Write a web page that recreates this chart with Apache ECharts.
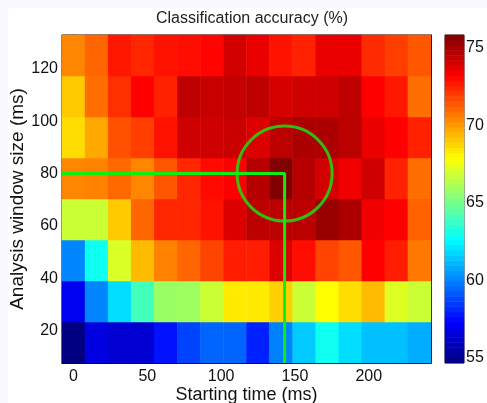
<!DOCTYPE html>
<html>
<head>
<meta charset="utf-8">
<script src="https://cdn.jsdelivr.net/npm/echarts@6/dist/echarts.min.js"></script>
<style>
html, body { margin: 0; padding: 0; background: #f8f8fe; }
#chart { width: 487px; height: 403px; }
</style>
</head>
<body>
<div id="chart"></div>
<script>
// cell centres (ms), step 15.625
var startTimes = [0, 15.6, 31.3, 46.9, 62.5, 78.1, 93.8, 109.4, 125, 140.6, 156.3, 171.9, 187.5, 203.1, 218.8, 234.4]
var windowSizes = [15.6, 31.3, 46.9, 62.5, 78.1, 93.8, 109.4, 125]

// accuracy (%) per window size, left to right in starting time
var win16 = [54.7, 56.7, 56.4, 56.4, 57.7, 58.7, 59.4, 59.4, 58.0, 60.0, 61.5, 62.9, 61.9, 61.3, 61.3, 60.9]
var win31 = [57.0, 60.1, 61.9, 64.0, 65.8, 65.9, 66.8, 68.3, 68.3, 68.9, 66.8, 67.9, 68.6, 69.3, 67.2, 66.8]
var win47 = [60.1, 62.9, 67.1, 69.3, 70.5, 71.1, 71.8, 72.6, 72.6, 73.9, 72.9, 71.8, 71.4, 73.2, 72.6, 70.7]
var win63 = [66.8, 66.8, 69.0, 71.1, 72.4, 72.4, 72.8, 73.9, 74.6, 74.6, 74.6, 75.3, 74.9, 73.5, 73.2, 71.2]
var win78 = [70.4, 70.5, 71.0, 70.4, 71.4, 72.4, 73.0, 73.2, 74.7, 75.8, 74.7, 74.1, 73.5, 74.2, 72.5, 70.9]
var win94 = [68.6, 69.7, 71.5, 71.9, 72.8, 74.2, 74.2, 74.3, 73.9, 74.6, 74.9, 74.9, 74.6, 73.6, 73.2, 72.5]
var win109 = [69.0, 70.9, 72.2, 73.2, 72.5, 74.5, 74.3, 74.4, 74.5, 74.0, 74.2, 74.2, 74.5, 73.2, 72.7, 70.9]
var win125 = [70.4, 71.1, 72.7, 72.4, 72.8, 72.9, 73.1, 74.1, 73.6, 72.8, 72.5, 73.6, 73.6, 72.3, 71.9, 71.4]

var xTicks = [0, 50, 100, 150, 200]
var yTicks = [20, 40, 60, 80, 100, 120]
var cbTicks = [55, 60, 65, 70, 75]
var accMin = 54.68
var accMax = 75.82

// best point marker: start 143 ms, window 80 ms
var bestPoint = [143, 80]
var guideLine = [[-7.8125, 80], [143, 80], [143, 7.8125]]

var rows = [win16, win31, win47, win63, win78, win94, win109, win125]
var heatData = []
rows.forEach(function (row, j) {
  row.forEach(function (v, i) {
    heatData.push([i, j, v])
  })
})

// colour bar stripes (64 levels like the matlab jet map)
var cbLevels = []
var cbData = []
for (var k = 0; k < 64; k++) {
  cbLevels.push(k)
  cbData.push([0, k, accMin + (k + 0.5) * (accMax - accMin) / 64])
}

var font = 'Liberation Sans, Arial, sans-serif'
var jet = ['#000080', '#0000ff', '#0080ff', '#00ffff', '#80ff80', '#ffff00', '#ff8000', '#ff0000', '#800000']
var green = '#10ee10'

var tickStyle = { inside: true, length: 4, lineStyle: { color: '#000' } }

var myChart = echarts.init(document.getElementById('chart'))
var option = {
  backgroundColor: '#f8f8fe',
  animation: false,
  graphic: [{
    type: 'rect',
    shape: { x: 8, y: 8, width: 479, height: 395 },
    style: { fill: '#fff' },
    z: -10
  }],
  title: {
    text: 'Classification accuracy (%)',
    left: 247,
    top: 6,
    textAlign: 'center',
    textStyle: { fontFamily: font, fontSize: 16, fontWeight: 'normal', color: '#222' }
  },
  visualMap: {
    type: 'continuous',
    show: false,
    min: accMin,
    max: accMax,
    seriesIndex: [0, 1],
    inRange: { color: jet }
  },
  grid: [
    { left: 62, top: 35, width: 369, height: 328, outerBoundsMode: 'none', containLabel: false, show: true, borderColor: '#000', borderWidth: 1, backgroundColor: 'transparent' },
    { left: 445, top: 35, width: 19, height: 328, outerBoundsMode: 'none', containLabel: false, show: true, borderColor: '#333', borderWidth: 1, backgroundColor: 'transparent' }
  ],
  xAxis: [
    { type: 'category', gridIndex: 0, data: startTimes, show: false },
    {
      type: 'value', gridIndex: 0, position: 'bottom', min: -7.8125, max: 242.1875,
      name: 'Starting time (ms)', nameLocation: 'middle', nameGap: 23, nameMoveOverlap: false,
      nameTextStyle: { fontFamily: font, fontSize: 18, color: '#111' },
      axisLine: { show: true, lineStyle: { color: '#000' } },
      axisTick: Object.assign({ customValues: xTicks }, tickStyle),
      axisLabel: { customValues: xTicks, fontFamily: font, fontSize: 16, color: '#111', margin: 6 },
      splitLine: { show: false }
    },
    {
      type: 'value', gridIndex: 0, position: 'top', min: -7.8125, max: 242.1875,
      axisLine: { show: true, lineStyle: { color: '#000' } },
      axisTick: Object.assign({ customValues: xTicks }, tickStyle),
      axisLabel: { show: false },
      splitLine: { show: false }
    },
    { type: 'category', gridIndex: 1, data: ['cb'], show: false }
  ],
  yAxis: [
    { type: 'category', gridIndex: 0, data: windowSizes, show: false },
    {
      type: 'value', gridIndex: 0, position: 'left', min: 7.8125, max: 132.8125,
      name: 'Analysis window size (ms)', nameLocation: 'middle', nameGap: 35, nameMoveOverlap: false,
      nameTextStyle: { fontFamily: font, fontSize: 19, color: '#111' },
      axisLine: { show: true, lineStyle: { color: '#000' } },
      axisTick: Object.assign({ customValues: yTicks }, tickStyle),
      axisLabel: { customValues: yTicks, fontFamily: font, fontSize: 16, color: '#111', margin: 4 },
      splitLine: { show: false }
    },
    {
      type: 'value', gridIndex: 0, position: 'right', min: 7.8125, max: 132.8125,
      axisLine: { show: true, lineStyle: { color: '#000' } },
      axisTick: Object.assign({ customValues: yTicks }, tickStyle),
      axisLabel: { show: false },
      splitLine: { show: false }
    },
    { type: 'category', gridIndex: 1, data: cbLevels, show: false },
    {
      type: 'value', gridIndex: 1, position: 'right', min: accMin, max: accMax,
      axisLine: { show: false },
      axisTick: { customValues: cbTicks, inside: true, length: 3, lineStyle: { color: '#000' } },
      axisLabel: { customValues: cbTicks, fontFamily: font, fontSize: 16, color: '#111', margin: 2 },
      splitLine: { show: false }
    },
    {
      type: 'value', gridIndex: 1, position: 'left', min: accMin, max: accMax,
      axisLine: { show: false },
      axisTick: { customValues: cbTicks, inside: true, length: 3, lineStyle: { color: '#000' } },
      axisLabel: { show: false },
      splitLine: { show: false }
    }
  ],
  series: [
    {
      type: 'heatmap',
      xAxisIndex: 0,
      yAxisIndex: 0,
      data: heatData,
      itemStyle: { borderWidth: 0 },
      emphasis: { disabled: true }
    },
    {
      type: 'heatmap',
      xAxisIndex: 3,
      yAxisIndex: 3,
      data: cbData,
      itemStyle: { borderWidth: 0 },
      emphasis: { disabled: true }
    },
    {
      type: 'line',
      xAxisIndex: 1,
      yAxisIndex: 1,
      data: guideLine,
      symbol: 'none',
      lineStyle: { color: green, width: 3 },
      z: 5
    },
    {
      type: 'scatter',
      xAxisIndex: 1,
      yAxisIndex: 1,
      data: [bestPoint],
      symbol: 'circle',
      symbolSize: 95,
      itemStyle: { color: 'rgba(0,0,0,0)', borderColor: green, borderWidth: 3 },
      emphasis: { disabled: true },
      z: 5
    }
  ]
}
myChart.setOption(option)
</script>
</body>
</html>
